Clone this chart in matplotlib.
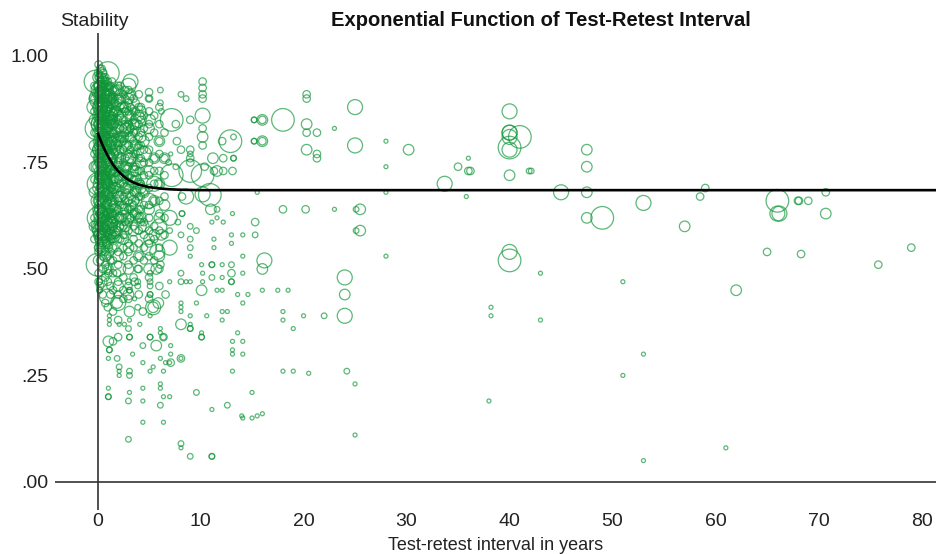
#!/usr/bin/env python
'''Stability vs test-retest interval, bubble scatter with fitted curve'''

import matplotlib
matplotlib.use('Agg')
import matplotlib.pyplot as plt
import numpy as np

plt.rcParams['font.family'] = ['Liberation Sans', 'DejaVu Sans']

x_ticks = [0, 10, 20, 30, 40, 50, 60, 70, 80]
y_ticks = [0, 0.25, 0.5, 0.75, 1.0]
y_tick_labels = ['.00', '.25', '.50', '.75', '1.00']

# fitted curve
curve_x = [0, 0.25, 0.5, 0.75, 1, 1.25, 1.5, 1.75, 2, 2.5, 3, 3.5, 4, 4.5, 5, 6, 7, 8, 10, 15, 82]
curve_y = [.82, .805, .79, .777, .765, .755, .745, .737, .73, .718, .709, .703, .698, .695, .692,
           .689, .687, .686, .685, .685, .685]

# sparse studies, grouped by bubble weight: (years, stability)
studies_w1 = [
    (1.05, .22), (2.1, .25), (3.1, .21), (4.4, .22), (4.4, .19), (6.1, .23), (6.1, .22), (6.4, .20),
    (7, .20), (11.1, .17), (14.1, .15), (4.4, .14), (6.4, .14), (8.1, .08), (1.05, .29), (2.1, .26),
    (5.1, .26), (5.4, .27), (6.1, .29), (6.6, .28), (6.4, .26), (7, .28), (4.4, .28), (3.4, .30),
    (6.1, .35), (6.1, .36), (10.1, .35), (13.6, .35), (9, .39), (10.6, .39), (12.1, .38), (12.1, .40),
    (12.6, .40), (14.1, .42), (13.6, .44), (14.6, .44), (11.6, .45), (12.1, .45), (9.6, .42), (8.1, .42),
    (8.1, .41), (8.1, .40), (10.1, .51), (12.1, .51), (8.6, .47), (9, .47), (7, .47), (14.1, .49),
    (3.6, .43), (5.1, .39), (4.1, .37), (2.1, .37), (2.6, .37), (1.15, .39), (1.15, .38), (1.15, .37),
    (3.1, .38), (15, .21), (15, .15), (15.5, .155), (16, .16), (14, .155), (16, .45), (17.5, .45),
    (18.5, .45), (18, .40), (18, .38), (19, .36), (20, .39), (18, .26), (19, .26), (20.5, .255), (23, .83),
    (28, .80), (28, .74), (28, .68), (28, .53), (25, .11), (25, .23), (23, .64), (15.5, .68), (35.8, .67),
    (36, .76), (43, .49), (38.2, .41), (38.2, .39), (43, .38), (51, .47), (53, .30), (51, .25), (38, .19),
    (61, .08), (53, .05), (14.1, .58), (14.1, .53), (13, .58), (13, .56), (11.3, .57), (11.3, .55),
    (11.6, .62), (12.2, .61), (11.1, .61), (9, .53), (13.1, .30), (14.1, .30), (13.1, .26), (13.1, .31),
    (13.1, .33), (14.1, .33), (9, .37), (8.1, .29), (7.1, .30), (7.1, .32), (10.2, .49), (10.2, .47),
    (12.1, .48), (13.1, .63), (7.1, .77),
]
studies_w2 = [
    (1.05, .20), (1.05, .20), (3, .19), (6.1, .18), (9.6, .21), (12.6, .18), (3, .10), (8.1, .09), (9, .06),
    (11.1, .06), (11.1, .06), (1.9, .29), (2.1, .27), (3.1, .26), (3.1, .25), (1.15, .31), (1.15, .31),
    (3.1, .34), (3.1, .34), (4.4, .32), (5.1, .34), (5.1, .34), (6.4, .34), (9, .36), (9, .36), (10.1, .34),
    (10.1, .34), (11.1, .48), (11.1, .51), (11.1, .51), (13, .51), (13, .47), (13, .47), (8.1, .49),
    (8.1, .47), (3, .47), (3.1, .45), (3.1, .45), (5.1, .44), (5.1, .44), (3.9, .47), (3.9, .46), (5.1, .49),
    (5.1, .47), (5.1, .46), (0.2, .45), (0.2, .45), (0.2, .47), (15.2, .85), (15.2, .85), (15.2, .80),
    (15.2, .80), (25.1, .64), (25.1, .59), (15.3, .58), (24.2, .26), (22, .39), (8.1, .91), (6.1, .92),
    (5, .90), (6.1, .89), (6.2, .87), (13.2, .81), (13.2, .76), (13.2, .76), (7.6, .74), (6.9, .75),
    (8.2, .63), (8.2, .63), (9, .60), (9, .57), (8.1, .58), (9.6, .59), (7.8, .61), (11.6, .64), (7, .59),
    (9, .55), (9, .77), (3.9, .41), (3, .36), (41.9, .73), (42.1, .73), (8.6, .90),
]
studies_w3 = [
    (1.9, .49), (1.05, .49), (3.9, .50), (6.1, .51), (13, .49), (7.6, .84), (8.1, .78), (9, .78), (9, .76),
    (9, .75), (10.2, .94), (10.2, .925), (10.2, .91), (10.2, .90), (10.2, .83), (10.2, .79), (12.1, .80),
    (12.2, .76), (13.1, .73), (12.2, .73), (11.3, .73), (10.4, .74), (7.7, .80), (9, .85), (5, .915),
    (8.2, .67), (18, .64), (20.2, .64), (15.3, .61), (20.3, .91), (20.3, .90), (20.3, .82), (21.3, .82),
    (21.3, .77), (21.3, .76), (35, .74), (36, .73), (36.2, .73), (58.5, .67), (59, .69), (68, .66),
    (68.1, .66), (69, .66), (70.7, .68), (65, .54), (68.3, .535), (75.8, .51), (79, .55), (16, .85),
    (16, .80), (6.4, .34), (7.1, .28), (3.6, .47), (2, .34), (1.5, .33), (4.4, .40), (6.6, .44), (8.1, .29),
]
studies_w6 = [
    (3, .50), (0.4, .47), (5.7, .50), (5.9, .42), (1.9, .42), (3.1, .40), (8.1, .37), (10.1, .45), (11, .64),
    (10.2, .81), (11.2, .76), (11.6, .73), (16, .50), (20.3, .84), (25.5, .64), (25.5, .59), (30.2, .78),
    (47.5, .68), (47.5, .62), (57, .60), (62, .45), (70.7, .63), (16, .85), (16, .80), (40, .72),
    (47.5, .78), (47.5, .74), (20.3, .78), (24, .44), (5.1, .85), (5.4, .41), (5.7, .32), (1.05, .33),
    (2.2, .80), (6.2, .58),
]
studies_w12 = [
    (0.9, .435), (2, .42), (5.4, .41), (7, .62), (7, .55), (5.8, .54), (8.6, .67), (10.2, .86), (16.2, .52),
    (24, .48), (24, .39), (25, .88), (25, .79), (33.7, .70), (40, .87), (40, .82), (40, .82), (40, .81),
    (40, .78), (45, .68), (53, .655), (66, .63), (66.2, .63), (40, .54), (10.2, .675), (0.3, .63), (1.2, .60),
    (3.2, .94), (3, .93), (2.6, .86), (-0.3, .88), (0.9, .90), (1.8, .72),
]
studies_w25 = [
    (0, .51), (12.9, .80), (9, .73), (7.2, .72), (40, .785), (40, .52), (49, .62), (66, .66), (41, .81),
    (10.9, .674), (10.2, .72), (7.2, .85), (18, .85), (0.1, .70), (-0.2, .94), (1, .96),
    (0.1, .62), (0.5, .84), (-0.1, .83), (0.3, .90), (0.5, .60),
]

# dense block near zero, per year column
dense_years = [0.1, 0.25, 0.5, 0.75, 1, 1.25, 1.5, 2, 2.5, 3, 3.5, 4, 4.5, 5, 5.5, 6, 6.5]
dense_w3 = [
    [.98, .95, .92, .90, .88, .85, .83, .80, .78, .75, .72, .68, .65, .60, .57, .54, .49, .47],
    [.97, .94, .91, .89, .86, .84, .81, .79, .76, .74, .71, .69, .66, .63, .61, .58, .55, .52, .46],
    [.96, .93, .92, .90, .87, .85, .82, .80, .77, .75, .73, .70, .67, .64, .62, .59, .56, .53, .50, .44],
    [.95, .93, .91, .89, .86, .83, .81, .78, .76, .72, .70, .68, .65, .62, .60, .57, .54, .51, .48, .42],
    [.94, .92, .90, .87, .85, .83, .80, .78, .75, .73, .71, .68, .66, .63, .61, .58, .56, .53, .50, .47, .41],
    [.93, .90, .88, .86, .84, .81, .79, .77, .74, .72, .69, .67, .64, .62, .59, .57, .54, .52, .46, .44],
    [.92, .90, .87, .85, .82, .80, .78, .75, .73, .70, .68, .65, .63, .60, .58, .55, .52, .49, .45, .40],
    [.93, .91, .89, .87, .85, .83, .81, .79, .77, .75, .73, .71, .69, .66, .64, .62, .59, .57, .54, .51, .47, .44, .38],
    [.91, .88, .85, .83, .80, .78, .75, .72, .70, .67, .65, .62, .60, .58, .55, .53, .48, .45, .43],
    [.92, .89, .87, .84, .82, .79, .77, .74, .72, .69, .66, .64, .61, .59, .56, .54, .51, .46, .43],
    [.90, .87, .85, .82, .80, .77, .74, .71, .68, .65, .63, .60, .57, .55, .52, .48],
    [.91, .88, .84, .81, .79, .76, .73, .70, .67, .64, .62, .59, .56, .53, .50, .44],
    [.86, .83, .78, .75, .72, .68, .65, .61, .58, .55, .52],
    [.90, .87, .84, .81, .78, .75, .72, .69, .65, .62, .59, .56, .53, .48, .43],
    [.86, .82, .76, .73, .70, .66, .60, .57, .52],
    [.88, .84, .80, .77, .73, .70, .66, .63, .59, .55, .50, .46],
    [.82, .76, .72, .67, .62, .58],
]
dense_w6 = [
    [.93, .88, .84, .80, .76, .70, .66, .58, .52],
    [.91, .86, .82, .77, .72, .64, .60, .55],
    [.94, .89, .85, .81, .74, .68, .61, .57],
    [.87, .83, .78, .71, .66, .59, .53],
    [.92, .88, .82, .76, .70, .63, .56, .50],
    [.85, .79, .73, .65, .58],
    [.90, .84, .77, .69, .62, .55],
    [.92, .86, .80, .74, .67, .60, .53, .46],
    [.88, .81, .72, .64, .57],
    [.90, .83, .76, .69, .62, .55, .44],
    [.84, .73, .66, .59],
    [.86, .78, .70, .62, .53],
    [.80, .68, .60],
    [.83, .73, .64, .57, .50],
    [.76, .66, .58],
    [.80, .70, .62, .53],
    [.76, .65],
]
dense_w12 = [
    [.92, .84, .74, .66], [.88, .78, .59], [.91, .72, .57], [.83, .68], [.90, .76, .61],
    [.86, .65], [.80, .58], [.89, .71, .50], [.83, .62], [.76, .67], [.71], [.85, .60],
    [.77], [.66, .55], [.70], [.60], [],
]

# second pass over the packed part, between the columns above
packed_years = [-0.3, 0.05, 0.2, 0.4, 0.6, 0.85, 1.1, 1.4, 1.7, 2.2, 2.7, 3.2, 3.7, 4.2]
packed_w3 = [
    [.93, .90, .87, .82, .77, .71, .62, .57],
    [.96, .93, .91, .89, .87, .84, .81, .79, .76, .73, .71, .67, .64, .61, .58, .55],
    [.95, .92, .90, .88, .85, .83, .80, .77, .75, .72, .69, .67, .63, .60, .56],
    [.97, .94, .91, .89, .86, .84, .81, .78, .76, .73, .70, .68, .64, .61, .59, .54],
    [.95, .93, .90, .88, .85, .82, .80, .77, .74, .72, .69, .66, .63, .60, .57],
    [.94, .91, .89, .86, .84, .81, .79, .76, .73, .71, .68, .65, .62, .59, .56],
    [.93, .90, .88, .85, .83, .80, .78, .75, .72, .70, .67, .64, .61, .58, .55],
    [.94, .91, .89, .86, .84, .82, .79, .76, .74, .71, .69, .66, .63, .60, .57],
    [.92, .89, .87, .84, .81, .79, .77, .74, .71, .68, .66, .63, .61, .58],
    [.93, .90, .88, .86, .83, .81, .78, .76, .73, .70, .68, .65, .62, .60, .57],
    [.92, .90, .87, .84, .82, .79, .76, .74, .71, .68, .66, .63, .61, .58],
    [.91, .88, .86, .83, .81, .78, .75, .72, .70, .67, .64, .62],
    [.89, .87, .84, .82, .79, .77, .74, .71, .68, .66, .63],
    [.88, .85, .82, .79, .76, .73, .70, .67, .64, .61],
]
packed_w6 = [
    [.90, .85, .79, .74, .68, .60],
    [.95, .91, .86, .82, .78, .74, .69, .64, .60],
    [.93, .89, .84, .79, .75, .71, .66, .62, .58],
    [.96, .92, .87, .83, .80, .73, .69, .63],
    [.90, .86, .81, .77, .72, .67, .62, .58],
    [.93, .88, .84, .79, .74, .70, .65, .60],
    [.91, .86, .82, .77, .73, .68, .63, .58],
    [.89, .85, .80, .76, .71, .66, .61],
    [.92, .87, .82, .78, .73, .69, .64, .59],
    [.90, .85, .81, .76, .72, .67, .62],
    [.88, .83, .79, .74, .69, .64, .60],
    [.91, .86, .81, .76, .71, .65],
    [.84, .79, .73, .68, .63],
    [.87, .81, .75, .69, .62],
]

weights_and_points = [(1, studies_w1), (2, studies_w2), (3.5, studies_w3), (7, studies_w6),
                      (14, studies_w12), (32, studies_w25)]
column_sets = [(dense_years, 3.5, dense_w3), (dense_years, 7, dense_w6), (dense_years, 14, dense_w12),
               (packed_years, 3.5, packed_w3), (packed_years, 7, packed_w6)]

if __name__ == '__main__':

    xs, ys, ws = [], [], []
    for weight, pts in weights_and_points:
        for px, py in pts:
            xs.append(px)
            ys.append(py)
            ws.append(weight)
    for years, weight, cols in column_sets:
        for year, col in zip(years, cols):
            for val in col:
                xs.append(year)
                ys.append(val)
                ws.append(weight)

    my_figure = plt.figure(figsize=(9.36, 5.54), dpi=100)
    ax = my_figure.add_axes([55/936, 1 - 510/554, (936 - 55)/936, (510 - 33)/554])

    ax.set_xlim(-4.13, 81.4)
    ax.set_ylim(-0.066, 1.054)

    ax.scatter(xs, ys, s=np.array(ws)*8.3, facecolors='none', edgecolors='#0f9638',
               linewidths=0.9, alpha=0.68, zorder=2)

    ax.axhline(0, color='#333333', lw=1.2, zorder=1)
    ax.axvline(0, color='#333333', lw=1.2, zorder=3)
    ax.plot(curve_x, curve_y, color='black', lw=1.9, zorder=4, solid_capstyle='butt')

    for side in ax.spines.values():
        side.set_visible(False)

    ax.set_xticks(x_ticks)
    ax.set_yticks(y_ticks)
    ax.set_yticklabels(y_tick_labels)
    ax.tick_params(axis='both', length=0, labelsize=14, labelcolor='#222222')
    ax.tick_params(axis='x', pad=2.5)
    ax.tick_params(axis='y', pad=4.5)

    ax.set_xlabel('Test-retest interval in years', fontsize=13, color='#222222', labelpad=5)
    my_figure.text(94.5/936, 1 - 21/554, 'Stability', ha='center', va='center', fontsize=14, color='#222222')
    my_figure.text(541/936, 1 - 21/554, 'Exponential Function of Test-Retest Interval', ha='center',
                   va='center', fontsize=14.5, fontweight='bold', color='#111111')

    my_figure.savefig('out.png', dpi=100)
